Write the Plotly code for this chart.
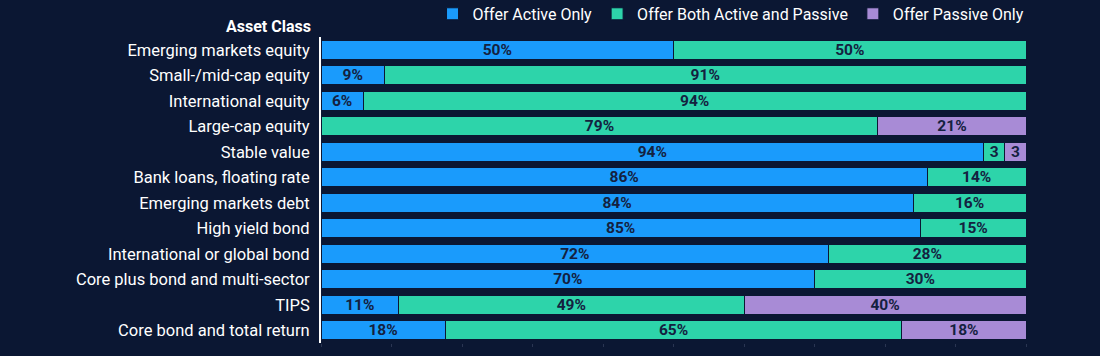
import plotly.graph_objects as go

categories = [
    "Emerging markets equity",
    "Small-/mid-cap equity",
    "International equity",
    "Large-cap equity",
    "Stable value",
    "Bank loans, floating rate",
    "Emerging markets debt",
    "High yield bond",
    "International or global bond",
    "Core plus bond and multi-sector",
    "TIPS",
    "Core bond and total return",
]
active_only = [50, 9, 6, 0, 94, 86, 84, 85, 72, 70, 11, 17.6]
both = [50, 91, 94, 79, 3, 14, 16, 15, 28, 30, 49, 64.8]
passive_only = [0, 0, 0, 21, 3, 0, 0, 0, 0, 0, 40, 17.6]

series_names = ["Offer Active Only", "Offer Both Active and Passive", "Offer Passive Only"]
series_values = [active_only, both, passive_only]
colors = ["#1a9bfc", "#2dd4aa", "#a88bd6"]

BG = "#0b1733"
LABEL = "#14213f"


def fmt(v):
    if v == 0:
        return ""
    if v < 5:
        return f"{v:.0f}"
    return f"{v:.0f}%"


fig = go.Figure()
for name, vals, col in zip(series_names, series_values, colors):
    fig.add_trace(go.Bar(
        y=categories,
        x=vals,
        name=name,
        orientation="h",
        marker=dict(color=col, line=dict(color=BG, width=1)),
        text=[fmt(v) for v in vals],
        textposition="inside",
        insidetextanchor="middle",
        constraintext="none",
        textangle=0,
        textfont=dict(family="Roboto", size=15.5, color=LABEL, weight="bold"),
        hoverinfo="skip",
    ))

fig.update_layout(
    barmode="stack",
    bargap=0.25,
    width=1100,
    height=356,
    margin=dict(l=321, r=74, t=37, b=13, autoexpand=False),
    paper_bgcolor=BG,
    plot_bgcolor=BG,
    font=dict(family="Roboto", size=16, color="#ffffff"),
    legend=dict(
        orientation="h",
        x=1.005, xanchor="right",
        y=1.02, yanchor="bottom",
        font=dict(family="Roboto", size=16, color="#ffffff"),
        bgcolor="rgba(0,0,0,0)",
        itemwidth=30,
        traceorder="normal",
    ),
    xaxis=dict(
        range=[0, 100],
        showgrid=False,
        zeroline=False,
        showticklabels=False,
        ticks="outside",
        ticklen=3,
        tickcolor="#2a3552",
        dtick=10,
        tick0=0,
        fixedrange=True,
    ),
    yaxis=dict(
        categoryorder="array",
        categoryarray=categories,
        autorange="reversed",
        showgrid=False,
        zeroline=False,
        showline=True,
        linecolor="#ffffff",
        linewidth=2,
        ticks="",
        ticklabelstandoff=6,
        tickfont=dict(family="Roboto", size=16.5, color="#ffffff"),
        fixedrange=True,
    ),
    annotations=[dict(
        text="<b>Asset Class</b>",
        xref="paper", yref="paper",
        x=0, y=1, xanchor="right", yanchor="bottom",
        xshift=-8, yshift=-1,
        showarrow=False,
        font=dict(family="Roboto", size=16, color="#ffffff"),
    )],
)

fig.write_html("out.html", config={"displayModeBar": False})

with open("out.html", "r", encoding="utf-8") as f:
    html = f.read()
html = html.replace("<head>", "<head><style>html,body{margin:0;padding:0;background:#0b1733;overflow:hidden;}</style>", 1)
with open("out.html", "w", encoding="utf-8") as f:
    f.write(html)
